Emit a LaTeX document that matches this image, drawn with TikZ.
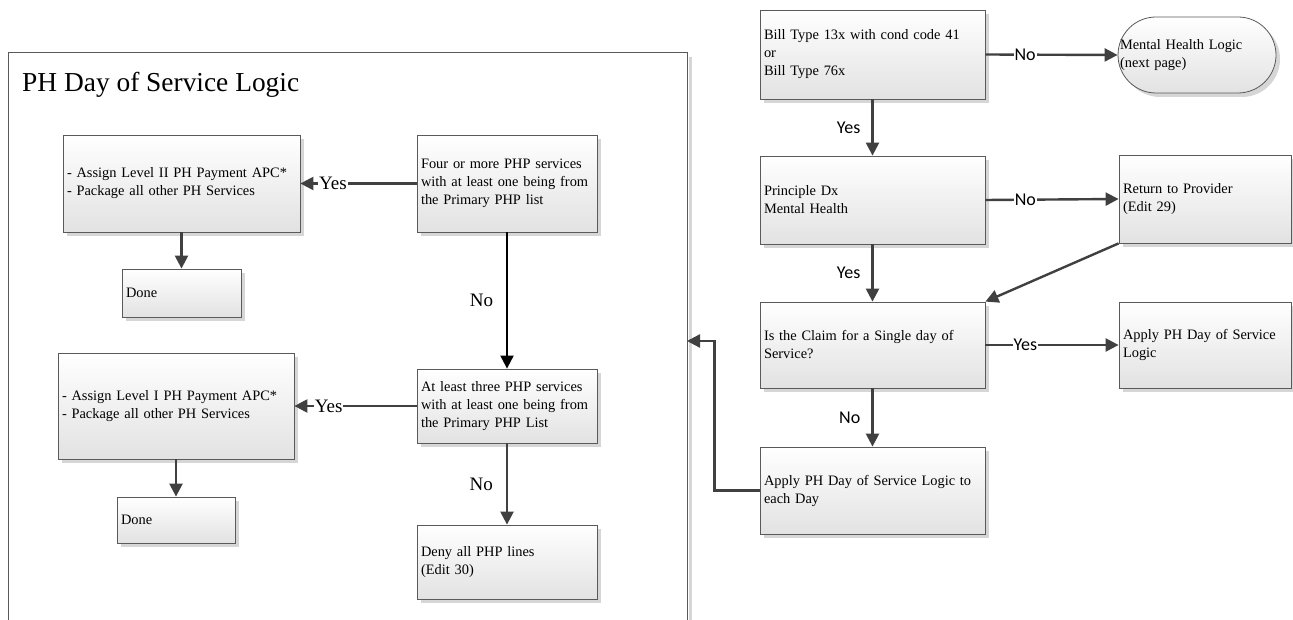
\documentclass[tikz,border=0pt]{standalone}
\usepackage{fontspec}
\setmainfont{Liberation Serif}
\newfontfamily\calfont{Carlito}
\usetikzlibrary{arrows.meta,shadows}

\definecolor{linegray}{HTML}{404040}
\definecolor{boxgray}{HTML}{5A5A5A}
\definecolor{boxfill}{HTML}{E2E2E2}
\definecolor{shadowgray}{HTML}{D6D6D6}

\begin{document}
\begin{tikzpicture}[x=1pt, y=-1pt,
    every node/.style = { font = \fontsize{14.4}{18}\selectfont },
    box/.style = { draw = boxgray, line width = .8pt, shape = rectangle, align = left,
      inner xsep = 4pt, inner ysep = 2pt, top color = white, bottom color = boxfill,
      drop shadow={shadow xshift=4pt,shadow yshift=-4pt,fill=shadowgray,opacity=1} },
    conn/.style = { draw = linegray, line width = 2.4pt, -{Triangle[length=13pt,width=13pt]} },
    yn/.style = { font = \calfont\fontsize{18}{20}\selectfont, fill = white, inner sep = 1pt },
    ynside/.style = { font = \calfont\fontsize{18}{20}\selectfont, inner sep = 1pt },
    ynl/.style = { font = \fontsize{19}{21}\selectfont, fill = white, inner sep = 1pt },
    ynlside/.style = { font = \fontsize{19}{21}\selectfont, inner sep = 1pt }]

  \useasboundingbox (0,0) rectangle (1293,620);

  % left frame
  \draw[shadowgray, line width = 3pt] (690.5,57) -- (690.5,625);
  \draw[boxgray, line width = 1pt] (8,625) -- (8,53) -- (687,53) -- (687,625);
  \node[anchor = base west, inner sep = 0pt, font = \fontsize{27.4}{30}\selectfont] (title) at (22,92) {PH Day of Service Logic};
  \coordinate (entry) at (687,341);

  % right column
  \node[box, text width = 217pt, minimum height = 89pt] (billtype) at (872.5,54.5) {Bill Type 13x with cond code 41\\or\\Bill Type 76x};
  \node[box, rounded corners = 38pt, inner xsep = 2pt, text width = 154pt, minimum height = 76pt] (mhlogic) at (1197,55) {Mental Health Logic\\(next page)};
  \node[box, text width = 217pt, minimum height = 88pt] (prindx) at (872.5,200) {Principle Dx\\Mental Health};
  \node[box, text width = 164pt, minimum height = 88pt] (rtp) at (1205,199) {Return to Provider\\(Edit 29)};
  \node[box, text width = 217pt, minimum height = 86pt] (single) at (872.5,345) {Is the Claim for a Single day of\\Service?};
  \node[box, text width = 164pt, minimum height = 86pt] (applyph) at (1205,345) {Apply PH Day of Service\\Logic};
  \node[box, text width = 217pt, minimum height = 87pt] (eachday) at (872.5,490.5) {Apply PH Day of Service Logic to\\each Day};

  % left part
  \node[box, text width = 229pt, minimum height = 97pt] (lvltwo) at (181.5,183.5) {- Assign Level II PH Payment APC*\\- Package all other PH Services};
  \node[box, text width = 172pt, minimum height = 97pt] (four) at (507,183.5) {Four or more PHP services\\with at least one being from\\the Primary PHP list};
  \node[box, text width = 111pt, minimum height = 48pt] (doneA) at (181.5,293) {Done};
  \node[box, text width = 228pt, minimum height = 106pt] (lvlone) at (176,406) {- Assign Level I PH Payment APC*\\- Package all other PH Services};
  \node[box, text width = 172pt, minimum height = 74pt] (three) at (507,406) {At least three PHP services\\with at least one being from\\the Primary PHP List};
  \node[box, text width = 110pt, minimum height = 46pt] (doneB) at (176,520) {Done};
  \node[box, text width = 172pt, minimum height = 74pt] (deny) at (507,562) {Deny all PHP lines\\(Edit 30)};

  % connectors
  \draw[conn] (billtype.east) -- node[yn, pos = .3] {No} (mhlogic.west);
  \draw[conn] (billtype.south) -- node[ynside, left = 10pt] {Yes} (prindx.north);
  \draw[conn] (prindx.east) -- node[yn, pos = .3] {No} (rtp.west);
  \draw[conn] (prindx.south) -- node[ynside, left = 10pt] {Yes} (single.north);
  \draw[conn] (rtp.south west) -- (single.north east);
  \draw[conn] (single.east) -- node[yn, pos = .3] {Yes} (applyph.west);
  \draw[conn] (single.south) -- node[ynside, left = 10pt] {No} (eachday.north);
  \draw[conn] (eachday.west) -- ++(-45,0) |- (entry);

  \draw[conn] (four.west) -- node[ynl, pos = .72] {Yes} (lvltwo.east);
  \draw[conn, draw = black, line width = 2pt] (four.south) -- node[ynlside, left = 12pt] {No} (three.north);
  \draw[conn] (three.west) -- node[ynl, pos = .72] {Yes} (lvlone.east);
  \draw[conn] (three.south) -- node[ynlside, left = 12pt] {No} (deny.north);
  \draw[conn] (lvltwo.south) -- (doneA.north);
  \draw[conn] (lvlone.south) -- (doneB.north);
\end{tikzpicture}
\end{document}
